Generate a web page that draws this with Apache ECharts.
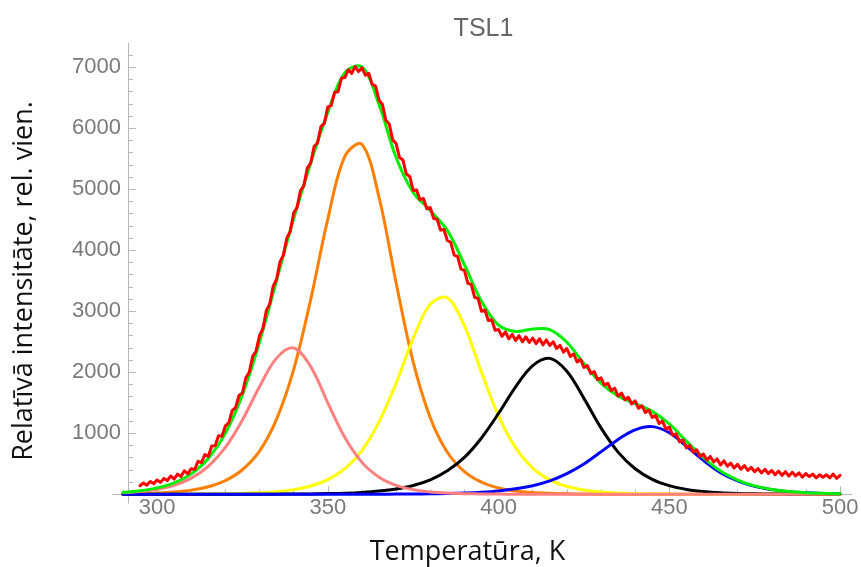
<!DOCTYPE html>
<html>
<head>
<meta charset="utf-8">
<script src="https://cdn.jsdelivr.net/npm/echarts@6/dist/echarts.min.js"></script>
<style>
  html, body { margin: 0; padding: 0; background: #ffffff; }
  #chart { width: 861px; height: 567px; }
</style>
</head>
<body>
<div id="chart"></div>
<script>
// Fitted-component temperature grid, K
const fitTemps = [290,295,300,305,310,315,320,325,330,335,340,345,350,355,360,365,370,375,380,385,390,395,400,405,410,415,420,425,430,435,440,445,450,455,460,465,470,475,480,485,490,495,500];

// Glow-peak components, rel. units
const peak1 = [24,46,83,148,264,458,768,1219,1764,2232,2397,2093,1500,929,523,281,147,76,39,20,10,5,3,2,1,1,0,0,0,0,0,0,0,0,0,0,0,0,0,0,0,0,0];
const peak2 = [6,11,21,38,68,124,224,402,706,1233,2044,3196,4510,5541,5736,4869,3468,2171,1256,689,373,200,104,55,28,15,8,4,2,1,1,0,0,0,0,0,0,0,0,0,0,0,0];
const peak3 = [0,0,1,1,2,4,7,13,24,42,76,136,239,422,715,1186,1817,2555,3114,3221,2759,2002,1284,761,429,236,128,70,37,20,10,5,3,1,1,0,0,0,0,0,0,0,0];
const peak4 = [0,0,0,0,0,0,0,0,1,2,4,6,11,18,31,52,86,143,236,384,604,923,1325,1762,2110,2228,2018,1572,1088,691,419,245,141,80,46,25,14,8,4,2,1,1,0];
const peak5 = [0,0,0,0,0,0,0,0,0,0,0,1,1,1,1,2,3,5,8,13,21,34,55,89,141,220,339,498,696,899,1057,1109,1009,790,555,355,220,129,76,43,25,14,8];
// Sum of the fitted components
const fitSum = [30,57,105,187,334,586,999,1634,2495,3509,4521,5432,6261,6911,7006,6390,5521,4950,4653,4327,3767,3164,2771,2669,2709,2700,2493,2144,1823,1611,1487,1359,1153,871,602,380,234,137,80,45,26,15,8];

// Measured TSL curve
const measTemps = [295,296,297,298,299,300,301,302,303,304,305,306,307,308,309,310,311,312,313,314,315,316,317,318,319,320,321,322,323,324,325,326,327,328,329,330,331,332,333,334,335,336,337,338,339,340,341,342,343,344,345,346,347,348,349,350,351,352,353,354,355,356,357,358,359,360,361,362,363,364,365,366,367,368,369,370,371,372,373,374,375,376,377,378,379,380,381,382,383,384,385,386,387,388,389,390,391,392,393,394,395,396,397,398,399,400,401,402,403,404,405,406,407,408,409,410,411,412,413,414,415,416,417,418,419,420,421,422,423,424,425,426,427,428,429,430,431,432,433,434,435,436,437,438,439,440,441,442,443,444,445,446,447,448,449,450,451,452,453,454,455,456,457,458,459,460,461,462,463,464,465,466,467,468,469,470,471,472,473,474,475,476,477,478,479,480,481,482,483,484,485,486,487,488,489,490,491,492,493,494,495,496,497,498,499,500];
const measIntensity = [140,185,150,210,175,235,195,260,225,300,250,330,290,385,335,420,405,540,520,650,620,790,795,960,950,1120,1170,1370,1420,1620,1660,1910,2000,2260,2350,2600,2720,3010,3120,3410,3520,3810,3920,4200,4310,4610,4700,4980,5060,5350,5430,5700,5760,6030,6080,6350,6370,6590,6600,6820,6830,6960,6900,7010,6930,6990,6870,6900,6720,6690,6460,6390,6130,6070,5810,5750,5520,5480,5250,5210,4980,4990,4830,4850,4680,4700,4520,4510,4330,4340,4160,4130,3920,3900,3690,3670,3460,3440,3230,3210,3000,3020,2850,2860,2690,2700,2590,2660,2550,2620,2520,2600,2500,2580,2490,2560,2470,2550,2450,2530,2440,2500,2390,2440,2330,2390,2260,2300,2170,2210,2080,2110,1980,2010,1880,1910,1790,1820,1700,1740,1610,1660,1550,1590,1480,1530,1410,1450,1340,1380,1260,1290,1160,1200,1070,1100,970,990,860,890,760,800,690,730,620,660,560,620,530,580,480,550,460,510,430,490,410,470,390,440,370,420,350,410,340,390,320,380,310,370,300,360,300,350,280,340,290,330,270,320,280,320,270,330,260,310];

// Axis ticks
const xMajorTicks = [300,350,400,450,500];
const xMinorTicks = [290,310,320,330,340,360,370,380,390,410,420,430,440,460,470,480,490];
const yMajorTicks = [1000,2000,3000,4000,5000,6000,7000];
const yMinorTicks = [200,400,600,800,1200,1400,1600,1800,2200,2400,2600,2800,3200,3400,3600,3800,4200,4400,4600,4800,5200,5400,5600,5800,6200,6400,6600,6800,7200];

const pairs = (xs, ys) => xs.map((x, i) => [x, ys[i]]);

const X_MIN = 287.1, X_MAX = 503.5;
const Y_MIN = -143, Y_MAX = 7393;
const axisGray = '#b8b8b8';
const tickFont = { color: '#7a7a7a', fontSize: 22, fontFamily: '"Liberation Sans", Arial, sans-serif', formatter: v => String(v) };

// Measured data: plain polyline through every sample
function measuredLine(name, xs, ys, color, width) {
  return {
    name, type: 'line', data: pairs(xs, ys), xAxisIndex: 0, yAxisIndex: 0,
    symbol: 'none', showSymbol: false, smooth: false, clip: false,
    lineStyle: { color, width, join: 'round', cap: 'round' }
  };
}

// Fitted curve: one smooth path through the samples, placed with the axes' own scales
function fittedCurve(name, xs, ys, color, width) {
  return {
    name, type: 'custom', coordinateSystem: 'cartesian2d', xAxisIndex: 0, yAxisIndex: 0,
    data: pairs(xs, ys), clip: false, silent: true,
    renderItem: (params, api) => {
      if (params.dataIndex !== 0) return null;
      const pts = xs.map((x, i) => api.coord([x, ys[i]]));
      return {
        type: 'polyline',
        shape: { points: pts, smooth: 0.35 },
        style: { stroke: color, lineWidth: width, fill: null, lineJoin: 'round', lineCap: 'round' }
      };
    }
  };
}

const chart = echarts.init(document.getElementById('chart'), null, { renderer: 'canvas' });
chart.setOption({
  animation: false,
  backgroundColor: '#ffffff',
  grid: { left: 113, right: 9, top: 43.3, bottom: 64, outerBoundsMode: 'none', containLabel: false },
  xAxis: [
    {
      type: 'value', min: X_MIN, max: X_MAX, position: 'bottom', offset: -8.7,
      axisLine: { show: true, onZero: false, lineStyle: { color: axisGray, width: 1 } },
      axisTick: { show: true, inside: true, length: 8, customValues: xMajorTicks, lineStyle: { color: axisGray } },
      axisLabel: Object.assign({ customValues: xMajorTicks, margin: 3 }, tickFont),
      splitLine: { show: false }
    },
    {
      type: 'value', min: X_MIN, max: X_MAX, position: 'bottom', offset: -8.7,
      axisLine: { show: false, onZero: false },
      axisTick: { show: true, inside: true, length: 5, customValues: xMinorTicks, lineStyle: { color: axisGray } },
      axisLabel: { show: false },
      splitLine: { show: false }
    }
  ],
  yAxis: [
    {
      type: 'value', min: Y_MIN, max: Y_MAX, position: 'left', offset: -15,
      axisLine: { show: true, onZero: false, lineStyle: { color: axisGray, width: 1 } },
      axisTick: { show: true, inside: true, length: 8, customValues: yMajorTicks, lineStyle: { color: axisGray } },
      axisLabel: Object.assign({ customValues: yMajorTicks, margin: 7 }, tickFont),
      splitLine: { show: false }
    },
    {
      type: 'value', min: Y_MIN, max: Y_MAX, position: 'left', offset: -15,
      axisLine: { show: false, onZero: false },
      axisTick: { show: true, inside: true, length: 5, customValues: yMinorTicks, lineStyle: { color: axisGray } },
      axisLabel: { show: false },
      splitLine: { show: false }
    }
  ],
  series: [
    measuredLine('Mērījums', measTemps, measIntensity, '#ff0000', 3),
    fittedCurve('Maksimums 2', fitTemps, peak2, '#ff7f00', 3),
    fittedCurve('Maksimums 3', fitTemps, peak3, '#ffff00', 3),
    fittedCurve('Maksimums 4', fitTemps, peak4, '#000000', 3),
    fittedCurve('Maksimums 5', fitTemps, peak5, '#0000ff', 3),
    fittedCurve('Maksimums 1', fitTemps, peak1, '#ff8080', 3),
    fittedCurve('Summa', fitTemps, fitSum, '#00ee00', 3)
  ],
  graphic: [
    {
      type: 'text', x: 483.5, y: 29,
      style: { text: 'TSL1', fill: '#666666', font: '25px "Liberation Sans", Arial, sans-serif',
               textAlign: 'center', textVerticalAlign: 'middle', align: 'center', verticalAlign: 'middle' }
    },
    {
      type: 'text', x: 467.5, y: 552.5,
      style: { text: 'Temperatūra, K', fill: '#111111', font: '27px "Open Sans", sans-serif',
               textAlign: 'center', textVerticalAlign: 'middle', align: 'center', verticalAlign: 'middle' }
    },
    {
      type: 'text', x: 24.5, y: 281, rotation: Math.PI / 2,
      style: { text: 'Relatīvā intensitāte, rel. vien.', fill: '#111111', font: '27px "Open Sans", sans-serif',
               textAlign: 'center', textVerticalAlign: 'middle', align: 'center', verticalAlign: 'middle' }
    }
  ]
});
</script>
</body>
</html>
